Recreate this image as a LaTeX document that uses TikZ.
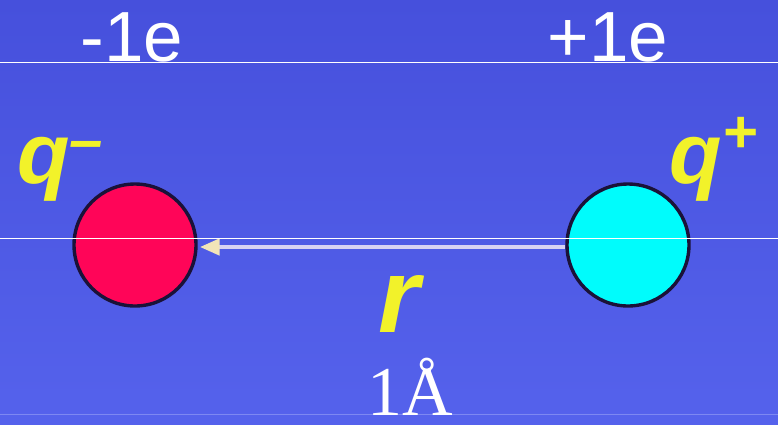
\documentclass[tikz,border=0pt]{standalone}
\usepackage{fontspec}
\setmainfont{Liberation Serif}
\setsansfont{Liberation Sans}
\usepackage{xcolor}
\definecolor{bgTop}{HTML}{4650DC}
\definecolor{bgBot}{HTML}{5562EC}
\definecolor{rimLine}{HTML}{7E88F2}
\definecolor{negFill}{HTML}{FF0558}
\definecolor{posFill}{HTML}{00FCFC}
\definecolor{ballFr}{HTML}{1A1238}
\definecolor{sepLine}{HTML}{D8D2F2}
\definecolor{tipFill}{HTML}{F2E4B8}
\definecolor{qYellow}{HTML}{F2F22A}
\usetikzlibrary{arrows.meta,positioning}
\newcommand{\upsign}[2]{\raisebox{#1}{\fontsize{60}{60}\selectfont#2}}
\tikzset{
  ball/.style={circle,draw=ballFr,line width=3.4pt,minimum size=122pt,inner sep=0pt},
  negball/.style={ball,fill=negFill},
  posball/.style={ball,fill=posFill},
  chg/.style={text=white,inner sep=0pt,anchor=base,font=\sffamily\fontsize{71}{71}\selectfont},
  qlbl/.style={text=qYellow,inner sep=0pt,font=\sffamily\bfseries\itshape\fontsize{86}{86}\selectfont},
  sep/.style={line width=4.5pt,sepLine,{Triangle[length=20pt,width=16pt,color=tipFill]}-},
  hair/.style={white,line width=1pt}}

\begin{document}
\begin{tikzpicture}[x=1pt,y=-1pt]
  \shade[top color=bgTop,bottom color=bgBot] (0,0) rectangle (778,424);
  \useasboundingbox (0,0) rectangle (778,424);
  \draw[rimLine,line width=1pt] (0,414.5) -- (778,414.5);
  \node[negball] (qn) at (135,245) {};
  \node[posball] (qp) at (628,245) {};
  \coordinate (tipend) at ([shift={(2pt,-2pt)}]qn.east);
  \coordinate (tailend) at ([shift={(0pt,-2pt)}]qp.west);
  \draw[sep] (tipend) -- (tailend);
  \node[chg] (cn) at (132,61) {-1e};
  \node[chg] (cp) at (608,61) {+1e};
  \node[qlbl,anchor=base west] (ln) at (17,183) {q\upsign{23pt}{\textendash}};
  \node[qlbl,anchor=base west] (lp) at (669,183) {q\kern1pt\upsign{31pt}{+}};
  \node[qlbl,anchor=base,font=\sffamily\bfseries\itshape\fontsize{106}{106}\selectfont] (rr) at (399,332) {r};
  \node[text=white,inner sep=0pt,anchor=base,font=\fontsize{70}{70}\selectfont] (dist) at (410,415) {1Å};
  \draw[hair] (0,62) -- (778,62);
  \draw[hair] (0,238) -- (778,238);
\end{tikzpicture}
\end{document}
